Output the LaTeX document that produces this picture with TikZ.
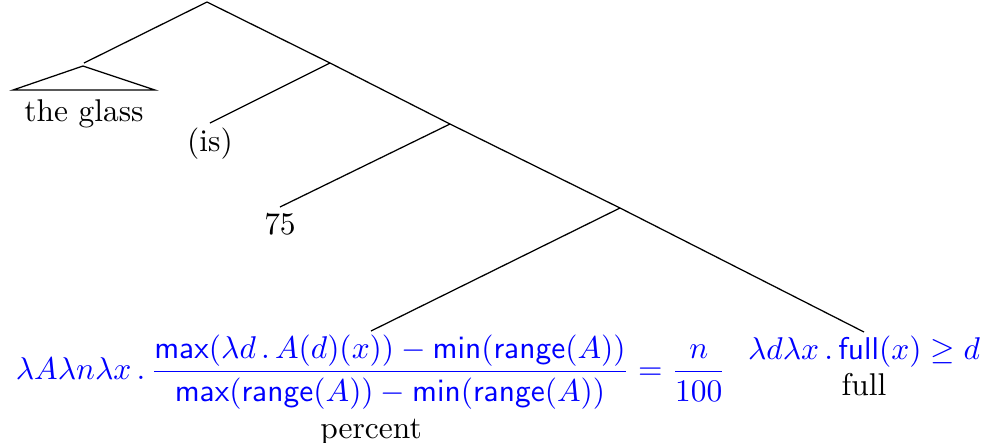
\documentclass[tikz,border=0pt]{standalone}
\usepackage{amsmath,amssymb}
\usepackage{tikz}
\usetikzlibrary{positioning}

\begin{document}
\begin{tikzpicture}[
          x=0.318pt,y=-0.318pt,
          leaf/.style={anchor=north,inner sep=1.9pt,align=center},
          sem/.style={anchor=north,inner sep=1pt,text=blue},
          gloss/.style={inner sep=1pt}]
        \useasboundingbox (0,0) rectangle (984,442);
        \coordinate (S) at (207,2);
        \coordinate (V1) at (330,63);
        \coordinate (V2) at (450,124);
        \coordinate (V3) at (620,208);
        \coordinate (DP) at (84,63);
        \coordinate (roof) at (83,66);
        \coordinate (roofL) at (13,90);
        \coordinate (roofR) at (155,90);
        \node[leaf,inner sep=2.8pt] (glass) at (84,90) {the glass};
        \node[leaf,inner sep=1.3pt] (is) at (210,123) {(is)};
        \node[leaf] (num) at (280,207) {75};
        \node[sem] (pct) at (371,331)
            {$\lambda A\lambda n\lambda x\,.\,
              \dfrac{\mathsf{max}(\lambda d\,.\,A(d)(x))-\mathsf{min}(\mathsf{range}(A))}
                    {\mathsf{max}(\mathsf{range}(A))-\mathsf{min}(\mathsf{range}(A))}
              =\dfrac{n}{100}$};
        \node[gloss,below=0.7pt of pct,anchor=north] (pctw) {percent};
        \node[sem] (full) at (864,332) {$\lambda d\lambda x\,.\,\mathsf{full}(x)\geq d$};
        \node[gloss,below=-0.6pt of full,anchor=north] (fullw) {full};
        \draw (S) -- (DP);
        \draw (roof) -- (roofL) -- (roofR) -- cycle;
        \draw (S) -- (V1);
        \draw (V1) -- (is.north);
        \draw (V1) -- (V2);
        \draw (V2) -- (num.north);
        \draw (V2) -- (V3);
        \draw (V3) -- (pct.north);
        \draw (V3) -- (full.north);
      \end{tikzpicture}
\end{document}
